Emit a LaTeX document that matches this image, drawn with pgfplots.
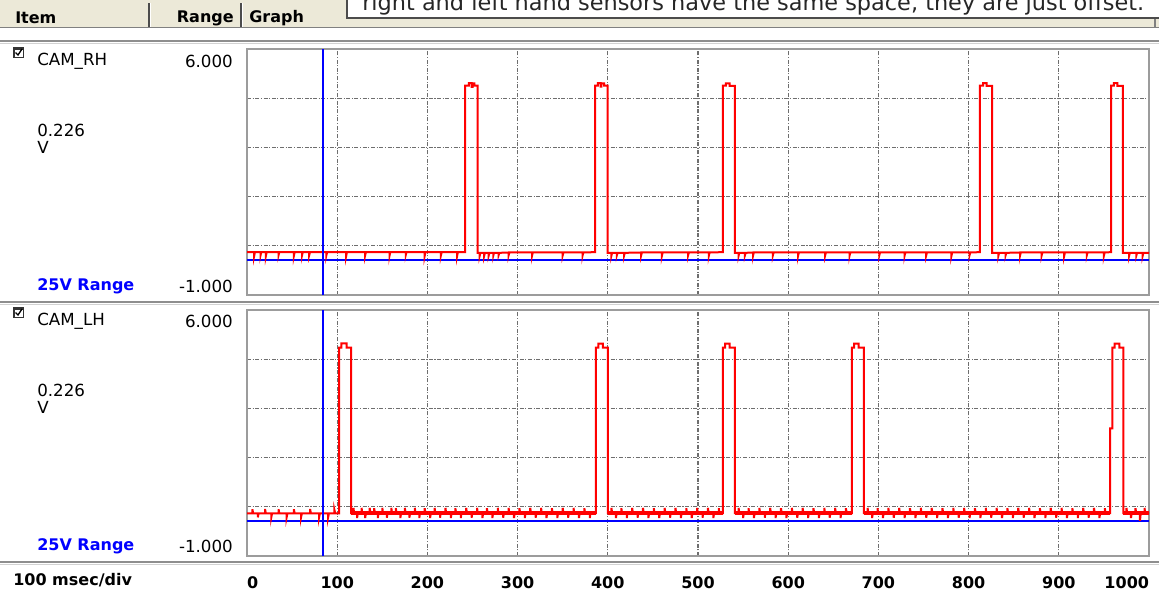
\documentclass[border=0pt]{standalone}
\usepackage{pgfplots}
\pgfplotsset{compat=1.18}
\usepackage{fontspec}
\setmainfont{DejaVu Sans}

\definecolor{hdr}{HTML}{ECE9D8}
\definecolor{boxgray}{HTML}{9C9C9C}
\definecolor{gridgray}{HTML}{6E6E6E}
\definecolor{sepgray}{HTML}{8E8E8E}
\definecolor{trace}{HTML}{FF0000}
\definecolor{cursor}{HTML}{0000FF}

\newcommand{\lbl}{\fontsize{12.5}{13}\selectfont}
\newcommand{\blbl}{\bfseries\fontsize{12}{13}\selectfont}

\pgfplotsset{scopeax/.style={
  scale only axis, width=676.5pt, height=184.5pt,
  xmin=0, xmax=1000, ymin=-1, ymax=6,
  xtick={0,100,...,1000}, ytick={0.4,1.8,3.2,4.6}, yticklabels={},
  major tick length=0pt, grid=major,
  major grid style={gridgray, line width=0.8pt, dash pattern=on 3pt off 1.2pt on 0.8pt off 1.2pt},
  axis line style={boxgray, line width=1.4pt},
}}

\begin{document}
\begin{tikzpicture}
\useasboundingbox (0,0) rectangle (869.25pt,-445.5pt);
\clip (0,0) rectangle (869.25pt,-445.5pt);

% window chrome, in screen pixels
\begin{scope}[x=0.75pt,y=-0.75pt]
  \fill[white] (0,0) rectangle (1159,594);
  \fill[hdr] (0,0) rectangle (1159,27);
  \draw[gray, line width=0.8pt] (0,27.5) -- (1159,27.5);
  \foreach \s in {149,241} {
    \draw[gray!60!black, line width=0.8pt] (\s,3) -- (\s,27);
    \draw[white, line width=0.8pt] (\s+1.2,3) -- (\s+1.2,27);
  }
  \draw[gray, line width=0.8pt] (1155,18) -- (1155,27);
  \filldraw[fill=white, draw=black!70, line width=1.1pt] (347,-20) rectangle (1175,18);
  \node[anchor=base west, inner sep=0pt, text=black!85, font=\fontsize{16.8}{17}\selectfont]
    at (362,10) {right and left hand sensors have the same space, they are just offset.};

  \node[anchor=west, inner sep=0pt, font=\blbl] at (15,18) {Item};
  \node[anchor=east, inner sep=0pt, font=\blbl] at (234,18) {Range};
  \node[anchor=west, inner sep=0pt, font=\blbl] at (249,18) {Graph};

  \foreach \yy in {41,302,562} {
    \draw[sepgray, line width=1.1pt] (0,\yy) -- (1159,\yy);
    \draw[gray!35, line width=0.7pt] (0,\yy+2) -- (1159,\yy+2);
  }

  % channel labels
  \foreach \dy/\name in {0/CAM\_RH, 260/CAM\_LH} {
    \fill[black!80] (13,47+\dy) rectangle (24,58+\dy);
    \fill[white] (14.5,50+\dy) rectangle (22.5,56.5+\dy);
    \draw[black, line width=1pt] (15.5,52.5+\dy) -- (18,55+\dy) -- (22,49+\dy);
    \node[anchor=west, inner sep=0pt, font=\lbl] at (37,61+\dy) {\name};
    \node[anchor=east, inner sep=0pt, font=\lbl] at (233,61+\dy) {6.000};
    \node[anchor=west, inner sep=0pt, font=\lbl] at (37,130+\dy) {0.226};
    \node[anchor=west, inner sep=0pt, font=\lbl] at (37,147+\dy) {V};
    \node[anchor=west, inner sep=0pt, font=\blbl, text=cursor] at (37,286+\dy) {25V Range};
    \node[anchor=east, inner sep=0pt, font=\lbl] at (233,286+\dy) {-1.000};
  }
  \node[anchor=west, inner sep=0pt, font=\blbl] at (13,580) {100 msec/div};
\end{scope}

% CAM_RH
\begin{axis}[scopeax, at={(185.25pt,-36.75pt)}, anchor=north west, xticklabels={}]
  \addplot[cursor, line width=1.1pt] coordinates {(0,0) (1000,0)};
  \addplot[trace, line width=1.5pt] coordinates {
    (0,0.22)
    (8,0.22)(8,0.12)(8.8,0.22) (15,0.22)(15,0.13)(15.8,0.22) (21,0.22)(21,0.12)(21.8,0.22)
    (35,0.22)(35,0.14)(35.8,0.22) (52,0.22)(52,0.12)(52.8,0.22) (61,0.22)(61,0.13)(61.8,0.22)
    (69,0.22)(69,0.14)(69.8,0.22) (88,0.22)(88,0.13)(88.8,0.22) (110,0.22)(110,0.12)(110.8,0.22)
    (131,0.22)(131,0.13)(131.8,0.22) (158,0.22)(158,0.12)(158.8,0.22) (176,0.22)(176,0.14)(176.8,0.22)
    (197,0.22)(197,0.12)(197.8,0.22) (215,0.22)(215,0.13)(215.8,0.22) (233,0.22)(233,0.12)(233.8,0.22)
    (241.7,0.22)(241.7,4.96)(246,4.96)(246,5.03)(249,5.03)(249,4.92)(250,4.92)(250,5.02)(252,5.02)(252,4.96)(255.8,4.96)(255.8,0.2)
    (258,0.2)(258,0.12)(258.8,0.2) (263,0.2)(263,0.12)(263.8,0.2) (268,0.2)(268,0.13)(268.8,0.2)
    (273,0.2)(273,0.12)(273.8,0.2) (279,0.2)(279,0.14)(279.8,0.2) (290,0.21)(290,0.13)(290.8,0.21)
    (316,0.21)(316,0.12)(316.8,0.21) (350,0.21)(350,0.13)(350.8,0.21) (372,0.21)(372,0.12)(372.8,0.21)
    (385.8,0.22)(385.8,4.96)(389,4.96)(389,5.03)(392,5.03)(392,4.93)(393,4.93)(393,5.02)(396,5.02)(396,4.96)(399.9,4.96)(399.9,0.2)
    (404,0.2)(404,0.12)(404.8,0.2) (410,0.2)(410,0.13)(410.8,0.2) (418,0.2)(418,0.12)(418.8,0.2)
    (437,0.21)(437,0.13)(437.8,0.21) (460,0.21)(460,0.12)(460.8,0.21) (489,0.21)(489,0.13)(489.8,0.21)
    (512,0.21)(512,0.12)(512.8,0.21)
    (527.7,0.22)(527.7,4.96)(531,4.96)(531,5.02)(535,5.02)(535,4.95)(541,4.95)(541,0.2)
    (545,0.2)(545,0.12)(545.8,0.2) (552,0.2)(552,0.13)(552.8,0.2) (561,0.21)(561,0.12)(561.8,0.21)
    (583,0.21)(583,0.13)(583.8,0.21) (611,0.21)(611,0.12)(611.8,0.21) (641,0.21)(641,0.13)(641.8,0.21)
    (668,0.21)(668,0.12)(668.8,0.21) (701,0.21)(701,0.13)(701.8,0.21) (729,0.21)(729,0.12)(729.8,0.21)
    (753,0.21)(753,0.13)(753.8,0.21) (781,0.21)(781,0.12)(781.8,0.21) (801,0.21)(801,0.13)(801.8,0.21)
    (812.6,0.22)(812.6,4.96)(816,4.96)(816,5.03)(820,5.03)(820,4.95)(826,4.95)(826,0.2)
    (833,0.2)(833,0.12)(833.8,0.2) (841,0.2)(841,0.13)(841.8,0.2) (857,0.21)(857,0.12)(857.8,0.21)
    (881,0.21)(881,0.13)(881.8,0.21) (906,0.21)(906,0.12)(906.8,0.21) (931,0.21)(931,0.13)(931.8,0.21)
    (950,0.21)(950,0.12)(950.8,0.21)
    (957.9,0.22)(957.9,4.96)(961,4.96)(961,5.03)(965,5.03)(965,4.95)(971,4.95)(971,0.2)
    (978,0.2)(978,0.12)(978.8,0.2) (986,0.2)(986,0.13)(986.8,0.2) (993,0.2)(993,0.12)(993.8,0.2)
    (1000,0.2)
  };
  \addplot[cursor, line width=1.1pt] coordinates {(84.3,-1) (84.3,6)};
\end{axis}

% CAM_LH
\begin{axis}[scopeax, at={(185.25pt,-232.5pt)}, anchor=north west,
  xticklabels={{\makebox[0pt][l]{0}},100,200,300,400,500,600,700,800,900,{\makebox[0pt][r]{1000}}},
  xticklabel style={font=\blbl, anchor=base, yshift=-24pt}]
  \addplot[cursor, line width=1.1pt] coordinates {(0,0) (1000,0)};
  % dense noise on the baseline
  \addplot[trace, line width=3pt] coordinates {(115.3,0.23) (386.9,0.23)};
  \addplot[trace, line width=3pt] coordinates {(400,0.23) (527.7,0.23)};
  \addplot[trace, line width=3pt] coordinates {(541,0.23) (670.7,0.23)};
  \addplot[trace, line width=3pt] coordinates {(684,0.23) (956.8,0.23)};
  \addplot[trace, line width=3pt] coordinates {(971.5,0.23) (1000,0.23)};
  \addplot[trace, line width=1.5pt] coordinates {
    (0,0.21)(6,0.21)(6,0.33)(6.8,0.21)(12,0.21)(12,0.1)(12.8,0.21)(20,0.21)(20,0.34)(20.8,0.21)
    (27,0.21)(27,0.11)(27.8,0.21)(35,0.21)(35,0.33)(35.8,0.21)(44,0.21)(44,0.11)(44.8,0.21)
    (52,0.21)(52,0.33)(52.8,0.21)(60,0.21)(60,0.11)(60.8,0.21)(70,0.21)(70,0.34)(70.8,0.21)
    (80,0.21)(80,0.11)(80.8,0.21)(90,0.21)(90,0.11)(90.8,0.21)(97,0.21)(97,0.3)(97.8,0.21)
    (102,0.21)(102,4.93)(104.5,4.93)(104.5,5.05)(110.5,5.05)(110.5,4.93)(115.3,4.93)(115.3,0.22)
    (118,0.22)(118,0.37)(118.8,0.22) (122,0.22)(122,0.08)(122.8,0.22) (127,0.22)(127,0.37)(127.8,0.22)
    (131,0.22)(131,0.08)(131.8,0.22) (136,0.22)(136,0.37)(136.8,0.22) (141,0.22)(141,0.36)(141.8,0.22)
    (145,0.22)(145,0.08)(145.8,0.22) (150,0.22)(150,0.37)(150.8,0.22) (155,0.22)(155,0.09)(155.8,0.22)
    (160,0.22)(160,0.37)(160.8,0.22) (165,0.22)(165,0.36)(165.8,0.22) (170,0.22)(170,0.08)(170.8,0.22)
    (175,0.22)(175,0.37)(175.8,0.22) (180,0.22)(180,0.09)(180.8,0.22) (186,0.22)(186,0.37)(186.8,0.22)
    (191,0.22)(191,0.08)(191.8,0.22) (197,0.22)(197,0.36)(197.8,0.22) (203,0.22)(203,0.08)(203.8,0.22)
    (208,0.22)(208,0.37)(208.8,0.22) (214,0.22)(214,0.09)(214.8,0.22) (220,0.22)(220,0.37)(220.8,0.22)
    (226,0.22)(226,0.08)(226.8,0.22) (231,0.22)(231,0.36)(231.8,0.22) (237,0.22)(237,0.08)(237.8,0.22)
    (243,0.22)(243,0.37)(243.8,0.22) (249,0.22)(249,0.09)(249.8,0.22) (255,0.22)(255,0.37)(255.8,0.22)
    (261,0.22)(261,0.08)(261.8,0.22) (266,0.22)(266,0.36)(266.8,0.22) (272,0.22)(272,0.08)(272.8,0.22)
    (278,0.22)(278,0.37)(278.8,0.22) (284,0.22)(284,0.09)(284.8,0.22) (290,0.22)(290,0.37)(290.8,0.22)
    (296,0.22)(296,0.08)(296.8,0.22) (302,0.22)(302,0.36)(302.8,0.22) (308,0.22)(308,0.08)(308.8,0.22)
    (314,0.22)(314,0.37)(314.8,0.22) (320,0.22)(320,0.09)(320.8,0.22) (326,0.22)(326,0.37)(326.8,0.22)
    (332,0.22)(332,0.08)(332.8,0.22) (338,0.22)(338,0.36)(338.8,0.22) (344,0.22)(344,0.08)(344.8,0.22)
    (350,0.22)(350,0.37)(350.8,0.22) (356,0.22)(356,0.09)(356.8,0.22) (362,0.22)(362,0.37)(362.8,0.22)
    (368,0.22)(368,0.08)(368.8,0.22) (374,0.22)(374,0.36)(374.8,0.22) (380,0.22)(380,0.08)(380.8,0.22)
    (386.9,0.22)(386.9,4.93)(389.5,4.93)(389.5,5.04)(394.5,5.04)(394.5,4.93)(400,4.93)(400,0.22)
    (404,0.22)(404,0.37)(404.8,0.22) (409,0.22)(409,0.08)(409.8,0.22) (415,0.22)(415,0.36)(415.8,0.22)
    (421,0.22)(421,0.08)(421.8,0.22) (427,0.22)(427,0.37)(427.8,0.22) (433,0.22)(433,0.09)(433.8,0.22)
    (439,0.22)(439,0.37)(439.8,0.22) (445,0.22)(445,0.08)(445.8,0.22) (451,0.22)(451,0.36)(451.8,0.22)
    (457,0.22)(457,0.08)(457.8,0.22) (463,0.22)(463,0.37)(463.8,0.22) (469,0.22)(469,0.09)(469.8,0.22)
    (475,0.22)(475,0.37)(475.8,0.22) (481,0.22)(481,0.08)(481.8,0.22) (487,0.22)(487,0.36)(487.8,0.22)
    (493,0.22)(493,0.08)(493.8,0.22) (499,0.22)(499,0.37)(499.8,0.22) (505,0.22)(505,0.09)(505.8,0.22)
    (511,0.22)(511,0.37)(511.8,0.22) (517,0.22)(517,0.08)(517.8,0.22) (523,0.22)(523,0.36)(523.8,0.22)
    (527.7,0.22)(527.7,4.93)(530,4.93)(530,5.04)(535,5.04)(535,4.93)(541,4.93)(541,0.22)
    (545,0.22)(545,0.37)(545.8,0.22) (550,0.22)(550,0.08)(550.8,0.22) (556,0.22)(556,0.36)(556.8,0.22)
    (562,0.22)(562,0.08)(562.8,0.22) (568,0.22)(568,0.37)(568.8,0.22) (574,0.22)(574,0.09)(574.8,0.22)
    (580,0.22)(580,0.37)(580.8,0.22) (586,0.22)(586,0.08)(586.8,0.22) (592,0.22)(592,0.36)(592.8,0.22)
    (598,0.22)(598,0.08)(598.8,0.22) (604,0.22)(604,0.37)(604.8,0.22) (610,0.22)(610,0.09)(610.8,0.22)
    (616,0.22)(616,0.37)(616.8,0.22) (622,0.22)(622,0.08)(622.8,0.22) (628,0.22)(628,0.36)(628.8,0.22)
    (634,0.22)(634,0.08)(634.8,0.22) (640,0.22)(640,0.37)(640.8,0.22) (646,0.22)(646,0.09)(646.8,0.22)
    (652,0.22)(652,0.37)(652.8,0.22) (658,0.22)(658,0.08)(658.8,0.22) (664,0.22)(664,0.36)(664.8,0.22)
    (670.7,0.22)(670.7,4.93)(673,4.93)(673,5.04)(678,5.04)(678,4.93)(684,4.93)(684,0.22)
    (688,0.22)(688,0.37)(688.8,0.22) (693,0.22)(693,0.08)(693.8,0.22) (699,0.22)(699,0.36)(699.8,0.22)
    (705,0.22)(705,0.08)(705.8,0.22) (711,0.22)(711,0.37)(711.8,0.22) (717,0.22)(717,0.09)(717.8,0.22)
    (723,0.22)(723,0.37)(723.8,0.22) (729,0.22)(729,0.08)(729.8,0.22) (735,0.22)(735,0.36)(735.8,0.22)
    (741,0.22)(741,0.08)(741.8,0.22) (747,0.22)(747,0.37)(747.8,0.22) (753,0.22)(753,0.09)(753.8,0.22)
    (759,0.22)(759,0.37)(759.8,0.22) (765,0.22)(765,0.08)(765.8,0.22) (771,0.22)(771,0.36)(771.8,0.22)
    (777,0.22)(777,0.08)(777.8,0.22) (783,0.22)(783,0.37)(783.8,0.22) (789,0.22)(789,0.09)(789.8,0.22)
    (795,0.22)(795,0.37)(795.8,0.22) (801,0.22)(801,0.08)(801.8,0.22) (807,0.22)(807,0.36)(807.8,0.22)
    (813,0.22)(813,0.08)(813.8,0.22) (819,0.22)(819,0.37)(819.8,0.22) (825,0.22)(825,0.09)(825.8,0.22)
    (831,0.22)(831,0.37)(831.8,0.22) (837,0.22)(837,0.08)(837.8,0.22) (843,0.22)(843,0.36)(843.8,0.22)
    (849,0.22)(849,0.08)(849.8,0.22) (855,0.22)(855,0.37)(855.8,0.22) (861,0.22)(861,0.09)(861.8,0.22)
    (867,0.22)(867,0.37)(867.8,0.22) (873,0.22)(873,0.08)(873.8,0.22) (879,0.22)(879,0.36)(879.8,0.22)
    (885,0.22)(885,0.08)(885.8,0.22) (891,0.22)(891,0.37)(891.8,0.22) (897,0.22)(897,0.09)(897.8,0.22)
    (903,0.22)(903,0.37)(903.8,0.22) (909,0.22)(909,0.08)(909.8,0.22) (915,0.22)(915,0.36)(915.8,0.22)
    (921,0.22)(921,0.08)(921.8,0.22) (927,0.22)(927,0.37)(927.8,0.22) (933,0.22)(933,0.09)(933.8,0.22)
    (939,0.22)(939,0.37)(939.8,0.22) (945,0.22)(945,0.08)(945.8,0.22) (951,0.22)(951,0.36)(951.8,0.22)
    (956.8,0.22)(956.8,2.63)(959.3,2.63)(959.3,4.93)(962,4.93)(962,5.04)(967,5.04)(967,4.93)(971.5,4.93)(971.5,0.22)
    (975,0.22)(975,0.37)(975.8,0.22) (980,0.22)(980,0.08)(980.8,0.22) (985,0.22)(985,0.36)(985.8,0.22)
    (990,0.22)(990,0.0)(990.8,0.22) (995,0.22)(995,0.37)(995.8,0.22) (1000,0.22)
  };
  \addplot[cursor, line width=1.1pt] coordinates {(84.3,-1) (84.3,6)};
\end{axis}
\end{tikzpicture}
\end{document}
